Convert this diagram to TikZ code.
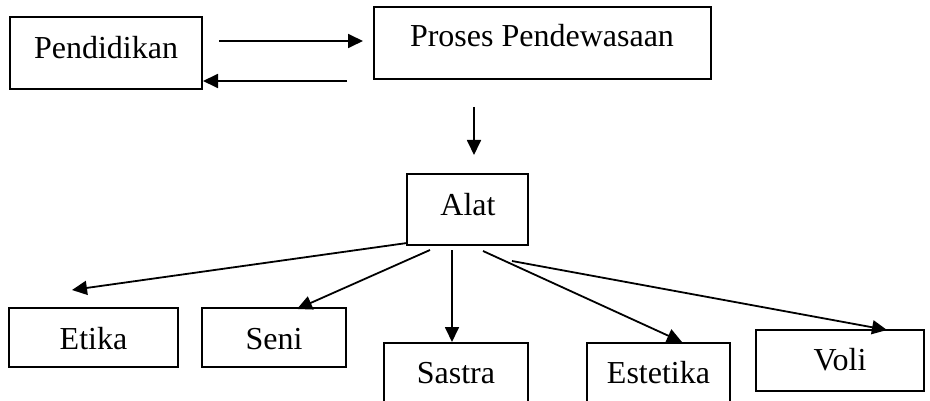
\documentclass[tikz,border=0pt]{standalone}
\usepackage{fontspec}
\setmainfont{Liberation Serif}
\usetikzlibrary{arrows.meta}
\begin{document}
\begin{tikzpicture}[x=1pt,y=-1pt,
  box/.style={draw, line width=2pt, inner sep=0pt},
  lbl/.style={anchor=base, font=\fontsize{32}{38}\selectfont, inner sep=0pt},
  arr/.style={line width=1.8pt, -{Triangle[length=15pt,width=14pt]}}]
\useasboundingbox (0,0) rectangle (930,401);
\clip (0,0) rectangle (930,401);
% boxes
\node[box, minimum width=192.5pt, minimum height=72pt] (pend) at (106,53) {};
\node[box, minimum width=337pt, minimum height=72pt] (proses) at (542.5,43) {};
\node[box, minimum width=121pt, minimum height=71pt] (alat) at (467.5,209.5) {};
\node[box, minimum width=169pt, minimum height=59pt] (etika) at (93.5,337.5) {};
\node[box, minimum width=144pt, minimum height=59pt] (seni) at (274,337.5) {};
\node[box, minimum width=144pt, minimum height=80pt] (sastra) at (456,383) {};
\node[box, minimum width=143pt, minimum height=80pt] (estetika) at (658.5,383) {};
\node[box, minimum width=168pt, minimum height=61pt] (voli) at (840,360.5) {};
% labels
\node[lbl] (tpend) at (106,59) {Pendidikan};
\node[lbl] (tproses) at (542,47) {Proses Pendewasaan};
\node[lbl] (talat) at (468,216) {Alat};
\node[lbl] (tetika) at (93.5,349) {Etika};
\node[lbl] (tseni) at (274,349) {Seni};
\node[lbl] (tsastra) at (456,383) {Sastra};
\node[lbl] (testetika) at (658.5,383) {Estetika};
\node[lbl] (tvoli) at (840,370) {Voli};
% connector ends
\coordinate (a1s) at (219,41);  \coordinate (a1e) at (363,41);
\coordinate (a2s) at (347,81);  \coordinate (a2e) at (203,81);
\coordinate (a3s) at (474,107); \coordinate (a3e) at (474,155);
\coordinate (a4s) at (407,243); \coordinate (a4e) at (72,290);
\coordinate (a5s) at (430,250); \coordinate (a5e) at (297,309);
\coordinate (a6s) at (452,250); \coordinate (a6e) at (452,342);
\coordinate (a7s) at (483,251); \coordinate (a7e) at (682,342);
\coordinate (a8s) at (512,261); \coordinate (a8e) at (887,330);
% connectors
\draw[arr] (a1s) -- (a1e);
\draw[arr] (a2s) -- (a2e);
\draw[arr] (a3s) -- (a3e);
\draw[arr] (a4s) -- (a4e);
\draw[arr] (a5s) -- (a5e);
\draw[arr] (a6s) -- (a6e);
\draw[arr] (a7s) -- (a7e);
\draw[arr] (a8s) -- (a8e);
\end{tikzpicture}
\end{document}
